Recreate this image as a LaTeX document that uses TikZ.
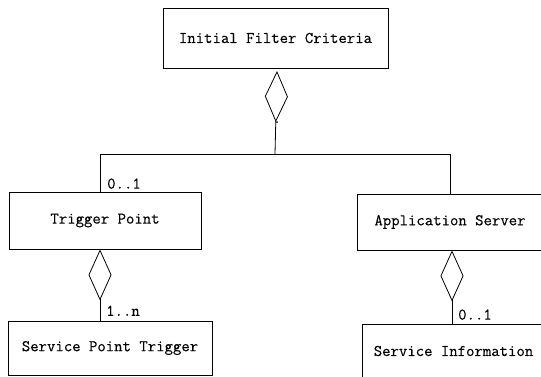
\documentclass[tikz,border=0pt]{standalone}
\usepackage{fontspec}
\newfontfamily\umlfont{Latin Modern Mono}[FakeBold=0.3]
\usetikzlibrary{arrows.meta}
\begin{document}
\begin{tikzpicture}[x=1pt,y=-1pt,
  lbl/.style={font=\umlfont\fontsize{16.3}{18}\selectfont},
  box/.style={lbl, draw, line width=0.8pt, rectangle, inner sep=0pt},
  link/.style={line width=0.8pt},
  agg/.style={link, {Diamond[open,length=51pt,width=23pt,line width=0.8pt]}-},
  mult/.style={lbl, anchor=south west, inner sep=0pt}]
  \useasboundingbox (0,0) rectangle (541,376);
  \clip (0,0) rectangle (541,376);
  % classes
  \node[box, minimum width=225pt, minimum height=60pt] (ifc) at (275.5,38) {Initial Filter Criteria};
  \node[box, minimum width=192pt, minimum height=57pt] (tp) at (105,220.5) {Trigger Point};
  \node[box, minimum width=186pt, minimum height=56pt] (as) at (450,222) {Application Server};
  \node[box, minimum width=204pt, minimum height=54pt] (spt) at (110,348) {Service Point Trigger};
  \node[box, minimum width=183pt, minimum height=54pt] (si) at (453.5,351) {Service Information};
  % junction points on the shared bus
  \coordinate (ifctop) at (277,71);
  \coordinate (bus) at (275,154);
  \coordinate (busl) at (100,154);
  \coordinate (busr) at (450,154);
  % aggregation from Initial Filter Criteria to both children
  \draw[agg] (ifctop) -- (bus);
  \fill (277,122) circle (1pt);
  \draw[link] (tp.north -| busl) -- (busl) -- (busr) -- (as.north -| busr);
  % aggregations below
  \draw[agg] (tp.south -| busl) -- (spt.north -| busl);
  \draw[agg] (as.south -| 452,0) -- (si.north -| 452,0);
  % multiplicities
  \node[mult] (m1) at (107,189) {0..1};
  \node[mult] (m2) at (106,316) {1..n};
  \node[mult] (m3) at (458,320) {0..1};
\end{tikzpicture}
\end{document}
